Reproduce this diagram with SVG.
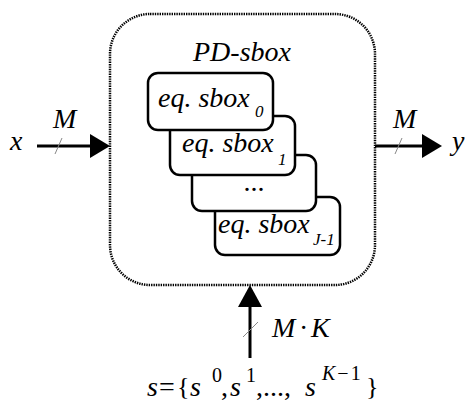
<svg xmlns="http://www.w3.org/2000/svg" width="470" height="401" viewBox="0 0 470 401">
<style>
.t{font-family:"Liberation Serif","Times New Roman",serif;font-style:italic;fill:#000}
.u{font-family:"Liberation Serif","Times New Roman",serif;font-style:normal;fill:#000}
.box{fill:#fff;stroke:#000;stroke-width:2.5}
.wire{stroke:#000;stroke-width:3;fill:none}
.slash{stroke:#888;stroke-width:1}
.head{fill:#000}
</style>
<rect width="470" height="401" fill="#fff"/>
<g id="pd-sbox">
<rect x="110" y="14" width="265" height="271" rx="40" ry="40" fill="none" stroke="#000" stroke-width="2.5" stroke-dasharray="1.4 1"/>
<text class="t" x="193" y="61" font-size="28">PD-sbox</text>
</g>
<g id="sbox3">
<rect class="box" x="215" y="197" width="125" height="58" rx="10"/>
<text class="t" x="218" y="233" font-size="28">eq. sbox<tspan font-size="17" x="313" y="245">J-1</tspan></text>
</g>
<g id="sbox2">
<rect class="box" x="192" y="155" width="124" height="56" rx="10"/>
<text class="u" x="254" y="191" font-size="28" text-anchor="middle">...</text>
</g>
<g id="sbox1">
<rect class="box" x="170" y="116" width="125" height="59" rx="10"/>
<text class="t" x="182" y="152" font-size="28">eq. sbox<tspan font-size="17" x="278" y="165">1</tspan></text>
</g>
<g id="sbox0">
<rect class="box" x="148" y="73" width="125" height="57" rx="10"/>
<text class="t" x="158" y="107" font-size="28">eq. sbox<tspan font-size="17" x="255" y="117">0</tspan></text>
</g>
<g id="connectors">
<line class="wire" x1="37" y1="146" x2="92" y2="146"/>
<polygon class="head" points="90,134 110,146 90,158"/>
<line class="slash" x1="55" y1="154" x2="62" y2="138"/>
<line class="wire" x1="375" y1="146" x2="424" y2="146"/>
<polygon class="head" points="422,134 442,146 422,158"/>
<line class="slash" x1="395" y1="154" x2="402" y2="138"/>
<line class="wire" x1="250" y1="358" x2="250" y2="305"/>
<polygon class="head" points="238,307 250,285 262,307"/>
<line class="slash" x1="243" y1="337" x2="258" y2="322"/>
</g>
<g id="labels">
<text class="t" x="10" y="150" font-size="28">x</text>
<text class="t" x="53" y="128" font-size="28">M</text>
<text class="t" x="393" y="128" font-size="28">M</text>
<text class="t" x="452" y="150" font-size="28">y</text>
<text class="t" x="272" y="337" font-size="28">M<tspan class="u" x="299">·</tspan><tspan x="311">K</tspan></text>
</g>
<g id="key-set">
<text class="t" x="147" y="396" font-size="28">s</text>
<text class="u" x="159" y="396" font-size="28">=</text>
<text class="u" x="177" y="395" font-size="26">{</text>
<text class="t" x="190" y="396" font-size="28">s</text>
<text class="u" x="212" y="382" font-size="20">0</text>
<text class="u" x="221" y="396" font-size="28">,</text>
<text class="t" x="230" y="396" font-size="28">s</text>
<text class="u" x="246" y="382" font-size="20">1</text>
<text class="u" x="256" y="396" font-size="28">,...,</text>
<text class="t" x="305" y="396" font-size="28">s</text>
<text class="t" x="322" y="380" font-size="20">K<tspan class="u" dx="2">−</tspan><tspan class="u" dx="2">1</tspan></text>
<text class="u" x="366" y="395" font-size="26">}</text>
</g>
</svg>
